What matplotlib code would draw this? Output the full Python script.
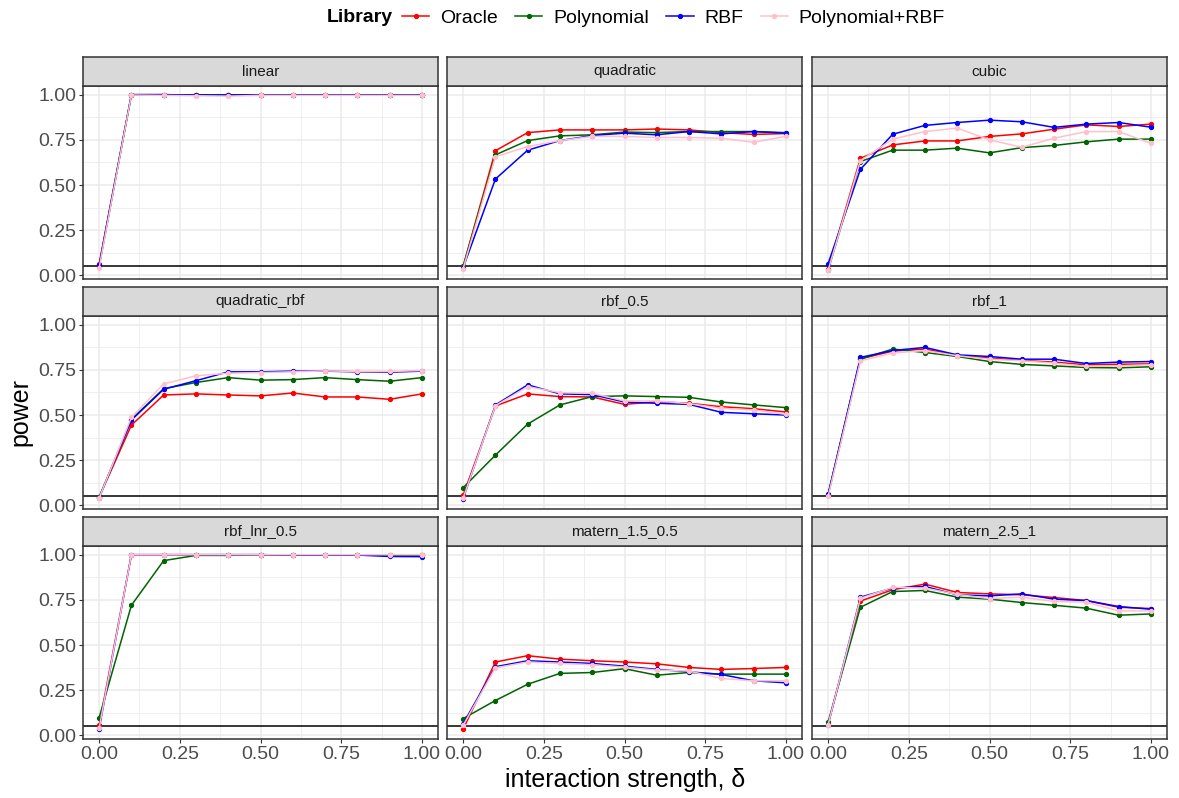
import numpy as np
import matplotlib
matplotlib.use("Agg")
import matplotlib.pyplot as plt
from matplotlib.lines import Line2D

plt.rcParams['font.family'] = ['Liberation Sans', 'DejaVu Sans']

delta = [0.0, 0.1, 0.2, 0.3, 0.4, 0.5, 0.6, 0.7, 0.8, 0.9, 1.0]

libraries = ['Oracle', 'Polynomial', 'RBF', 'Polynomial+RBF']
lib_colors = ['red', 'darkgreen', 'blue', 'pink']

panels = ['linear', 'quadratic', 'cubic',
          'quadratic_rbf', 'rbf_0.5', 'rbf_1',
          'rbf_lnr_0.5', 'matern_1.5_0.5', 'matern_2.5_1']

# power per panel, per library (Oracle, Polynomial, RBF, Polynomial+RBF)
linear_power = [
    [0.062, 1.0, 1.0, 0.998, 0.998, 0.998, 0.998, 0.998, 0.998, 0.998, 0.998],
    [0.050, 1.0, 1.0, 0.998, 0.998, 0.998, 0.998, 0.998, 0.998, 0.998, 0.998],
    [0.055, 1.0, 1.0, 0.998, 0.998, 0.998, 0.998, 0.998, 0.998, 0.998, 0.998],
    [0.042, 0.998, 0.996, 0.994, 0.992, 0.996, 0.996, 0.996, 0.996, 0.996, 0.996],
]
quadratic_power = [
    [0.050, 0.690, 0.790, 0.805, 0.805, 0.805, 0.810, 0.805, 0.790, 0.780, 0.785],
    [0.050, 0.667, 0.746, 0.772, 0.778, 0.793, 0.790, 0.796, 0.796, 0.796, 0.790],
    [0.042, 0.533, 0.693, 0.746, 0.774, 0.787, 0.778, 0.796, 0.783, 0.796, 0.787],
    [0.037, 0.657, 0.713, 0.746, 0.769, 0.769, 0.763, 0.763, 0.759, 0.737, 0.769],
]
cubic_power = [
    [0.037, 0.648, 0.722, 0.744, 0.744, 0.769, 0.783, 0.809, 0.833, 0.824, 0.837],
    [0.028, 0.630, 0.693, 0.693, 0.704, 0.678, 0.707, 0.719, 0.739, 0.754, 0.754],
    [0.065, 0.587, 0.781, 0.830, 0.846, 0.859, 0.850, 0.819, 0.837, 0.846, 0.820],
    [0.028, 0.635, 0.754, 0.796, 0.815, 0.750, 0.709, 0.759, 0.796, 0.796, 0.731],
]
quadratic_rbf_power = [
    [0.045, 0.444, 0.611, 0.617, 0.611, 0.606, 0.622, 0.600, 0.600, 0.587, 0.617],
    [0.045, 0.476, 0.646, 0.680, 0.707, 0.693, 0.696, 0.707, 0.696, 0.687, 0.707],
    [0.043, 0.472, 0.643, 0.690, 0.739, 0.739, 0.743, 0.743, 0.739, 0.737, 0.743],
    [0.040, 0.487, 0.672, 0.717, 0.731, 0.735, 0.739, 0.744, 0.741, 0.741, 0.746],
]
rbf_05_power = [
    [0.056, 0.550, 0.617, 0.602, 0.600, 0.559, 0.574, 0.565, 0.546, 0.535, 0.517],
    [0.098, 0.278, 0.450, 0.556, 0.602, 0.606, 0.602, 0.598, 0.572, 0.556, 0.541],
    [0.037, 0.556, 0.667, 0.617, 0.613, 0.572, 0.565, 0.559, 0.515, 0.507, 0.500],
    [0.040, 0.552, 0.657, 0.624, 0.620, 0.578, 0.578, 0.563, 0.537, 0.528, 0.504],
]
rbf_1_power = [
    [0.060, 0.811, 0.854, 0.865, 0.830, 0.815, 0.802, 0.793, 0.778, 0.781, 0.783],
    [0.060, 0.809, 0.865, 0.846, 0.824, 0.796, 0.780, 0.772, 0.763, 0.761, 0.767],
    [0.061, 0.819, 0.857, 0.874, 0.833, 0.824, 0.809, 0.809, 0.785, 0.793, 0.796],
    [0.050, 0.800, 0.843, 0.857, 0.828, 0.809, 0.800, 0.787, 0.769, 0.772, 0.778],
]
rbf_lnr_05_power = [
    [0.056, 1.0, 1.0, 1.0, 1.0, 1.0, 0.998, 0.998, 0.998, 0.998, 0.998],
    [0.098, 0.720, 0.967, 0.996, 0.996, 1.0, 0.998, 0.998, 0.998, 0.996, 0.996],
    [0.035, 1.0, 1.0, 1.0, 1.0, 1.0, 0.998, 0.998, 0.998, 0.990, 0.989],
    [0.040, 1.0, 1.0, 1.0, 1.0, 1.0, 1.0, 1.0, 1.0, 1.0, 1.0],
]
matern_15_05_power = [
    [0.035, 0.406, 0.441, 0.422, 0.413, 0.406, 0.396, 0.376, 0.365, 0.370, 0.376],
    [0.093, 0.193, 0.283, 0.343, 0.348, 0.369, 0.333, 0.348, 0.339, 0.339, 0.339],
    [0.065, 0.380, 0.413, 0.406, 0.398, 0.383, 0.365, 0.352, 0.337, 0.302, 0.291],
    [0.056, 0.374, 0.406, 0.398, 0.391, 0.378, 0.361, 0.356, 0.315, 0.302, 0.302],
]
matern_25_1_power = [
    [0.061, 0.743, 0.806, 0.837, 0.791, 0.783, 0.778, 0.763, 0.746, 0.709, 0.702],
    [0.074, 0.709, 0.796, 0.802, 0.765, 0.754, 0.735, 0.720, 0.704, 0.665, 0.672],
    [0.060, 0.765, 0.815, 0.824, 0.778, 0.772, 0.783, 0.754, 0.746, 0.713, 0.698],
    [0.060, 0.759, 0.819, 0.815, 0.780, 0.757, 0.765, 0.741, 0.737, 0.689, 0.689],
]

panel_power = [linear_power, quadratic_power, cubic_power,
               quadratic_rbf_power, rbf_05_power, rbf_1_power,
               rbf_lnr_05_power, matern_15_05_power, matern_25_1_power]

alpha_level = 0.05

W, H = 1179, 798
fig = plt.figure(figsize=(W / 100, H / 100), dpi=100)

col_left = [83, 447, 812]
panel_w = 355
row_top = [86, 316, 546]
panel_h = 193
strip_h = 29

edge = '#333333'
for k, name in enumerate(panels):
    r, c = divmod(k, 3)
    x0 = col_left[c] / W
    y0 = 1 - (row_top[r] + panel_h) / H
    ax = fig.add_axes([x0, y0, panel_w / W, panel_h / H])
    ax.set_xlim(-0.05, 1.05)
    ax.set_ylim(-0.02, 1.048)
    ax.set_xticks([0, 0.25, 0.5, 0.75, 1.0])
    ax.set_xticks([0.125, 0.375, 0.625, 0.875], minor=True)
    ax.set_yticks([0, 0.25, 0.5, 0.75, 1.0])
    ax.set_yticks([0.125, 0.375, 0.625, 0.875], minor=True)
    ax.grid(which='major', color='#EBEBEB', linewidth=1.1)
    ax.grid(which='minor', color='#EBEBEB', linewidth=0.55)
    ax.set_axisbelow(True)
    for sp in ax.spines.values():
        sp.set_color(edge)
        sp.set_linewidth(1.1)
    ax.tick_params(which='minor', length=0)
    ax.tick_params(which='major', length=3, width=0.8, color=edge,
                   labelsize=14, labelcolor='#4D4D4D', pad=2)
    if c != 0:
        ax.tick_params(axis='y', which='major', length=0, labelleft=False)
    else:
        ax.set_yticklabels(['0.00', '0.25', '0.50', '0.75', '1.00'])
    if r != 2:
        ax.tick_params(axis='x', which='major', length=0, labelbottom=False)
    else:
        ax.set_xticklabels(['0.00', '0.25', '0.50', '0.75', '1.00'])

    ax.axhline(alpha_level, color='black', linewidth=1.1, zorder=2)
    for series, col in zip(panel_power[k], lib_colors):
        ax.plot(delta, series, '-o', color=col, linewidth=1.1,
                markersize=2.8, zorder=3)

    # facet strip
    sax = fig.add_axes([x0, 1 - row_top[r] / H, panel_w / W, strip_h / H])
    sax.set_facecolor('#D9D9D9')
    sax.set_xticks([])
    sax.set_yticks([])
    for sp in sax.spines.values():
        sp.set_color(edge)
        sp.set_linewidth(1.1)
    sax.text(0.5, 0.5, name, ha='center', va='center', fontsize=11,
             color='#1A1A1A', transform=sax.transAxes)

fig.text(625 / W, 1 - 780 / H, 'interaction strength, δ', ha='center',
         va='center', fontsize=18)
fig.text(20 / W, 1 - 412 / H, 'power', ha='center', va='center',
         fontsize=18, rotation=90)

# legend at top: bold title on the left, entries in one row
fig.text(393 / W, 1 - 18 / H, 'Library', ha='right', va='center',
         fontsize=14, fontweight='bold')
handles = [Line2D([], [], color=col, marker='o', markersize=2.8, linewidth=1.1)
           for col in lib_colors]
fig.legend(handles, libraries, loc='center left', ncol=4,
           bbox_to_anchor=(402 / W, 1 - 18 / H), frameon=False,
           fontsize=14, handlelength=1.4, handletextpad=0.55,
           columnspacing=0.9, borderpad=0, borderaxespad=0)

fig.savefig('out.png', dpi=100)
